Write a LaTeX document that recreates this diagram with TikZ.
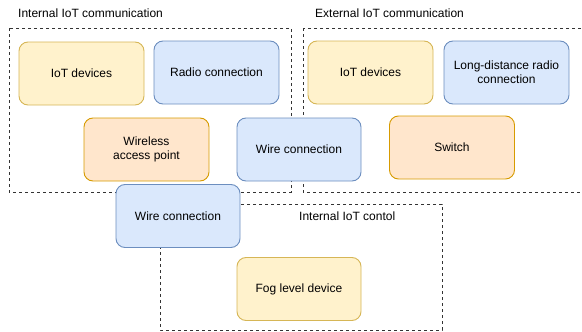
\documentclass[tikz,border=0pt]{standalone}
\usepackage{fontspec}
\setmainfont{Liberation Sans}
\definecolor{blueF}{HTML}{DAE8FC}
\definecolor{blueS}{HTML}{6C8EBF}
\definecolor{yelF}{HTML}{FFF2CC}
\definecolor{yelS}{HTML}{D6B656}
\definecolor{orF}{HTML}{FFE6CC}
\definecolor{orS}{HTML}{D79B00}
\begin{document}
\begin{tikzpicture}[x=1pt,y=-1pt,
  every node/.style={font=\fontsize{12}{14.4}\selectfont, text=black},
  card/.style={rounded corners=9pt, line width=0.9pt, minimum width=125pt,
    minimum height=63pt, align=center, inner sep=2pt},
  bluecard/.style={card, fill=blueF, draw=blueS},
  yellowcard/.style={card, fill=yelF, draw=yelS},
  orangecard/.style={card, fill=orF, draw=orS},
  groupbox/.style={draw=black!80, line width=0.8pt, dash pattern=on 3pt off 3pt},
  grouplabel/.style={anchor=west, inner sep=0pt}]
\useasboundingbox (0,0) rectangle (582,332);

% group frames
\coordinate (intA) at (9,28);   \coordinate (intB) at (291,192);
\coordinate (extA) at (303,28); \coordinate (extB) at (590,192);
\coordinate (ctlA) at (160,204);\coordinate (ctlB) at (442,330);
\draw[groupbox] (intA) rectangle (intB);
\draw[groupbox] (extA) rectangle (extB);
\draw[groupbox] (ctlA) rectangle (ctlB);

\node[grouplabel] (lint) at (18,13) {Internal IoT communication};
\node[grouplabel] (lext) at (315,13) {External IoT communication};
\node[grouplabel] (lctl) at (299,216) {Internal IoT contol};

% internal communication
\node[yellowcard] (iotA) at (81.5,73.5) {IoT devices};
\node[bluecard] (radio) at (216.5,72.5) {Radio connection};
\node[orangecard] (wap) at (146.5,149.5) {Wireless\\access point};

% shared wire link
\node[bluecard, minimum width=124pt] (wireM) at (299,149.5) {Wire connection};

% external communication
\node[yellowcard] (iotB) at (370.5,72.5) {IoT devices};
\node[bluecard] (longr) at (506.5,72.5) {Long-distance radio\\connection};
\node[orangecard] (switch) at (452,147.5) {Switch};

% internal control
\node[bluecard, minimum width=124pt] (wireL) at (178,216) {Wire connection};
\node[yellowcard, minimum width=124pt] (fog) at (299,289) {Fog level device};
\end{tikzpicture}
\end{document}
